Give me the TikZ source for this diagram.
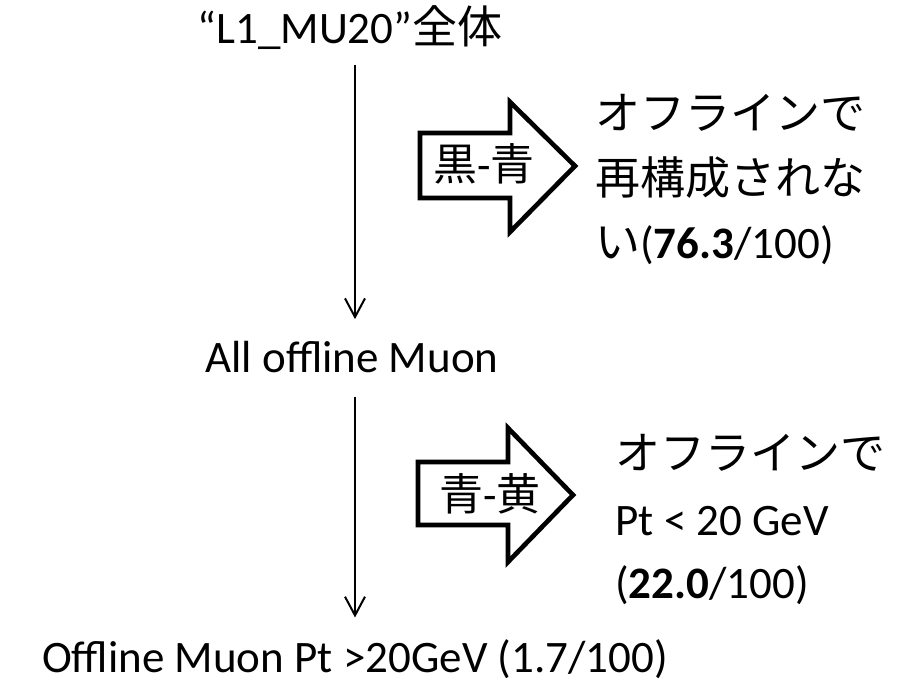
\documentclass[tikz,border=0pt]{standalone}
\usepackage{fontspec}
\setmainfont{Carlito}
\newfontfamily\jp{Noto Sans CJK JP}
\usetikzlibrary{arrows.meta}
\begin{document}
\begin{tikzpicture}[x=0.75pt,y=-0.75pt,
  txt/.style={inner sep=0pt, font=\fontsize{33.75}{40}\selectfont},
  albl/.style={inner sep=0pt, font=\fontsize{33}{38}\selectfont},
  conn/.style={line width=1.5pt, -{Straight Barb[length=14pt,width=15pt,line width=1.5pt]}},
  blk/.style={line width=3.5pt, draw=black, fill=white, line join=miter}]
\useasboundingbox[fill=white] (0,0) rectangle (908,683);
\coordinate (ax) at (355,0);
% main chain
\node[txt, anchor=base] (top) at (350,43) {“L1\_MU20”{\jp 全体}};
\node[txt, anchor=base] (mid) at (352,372) {All offline Muon};
\node[txt, anchor=base] (bot) at (355,672) {Offline Muon Pt >20GeV (1.7/100)};
\draw[conn, shorten <=12pt, shorten >=16pt] (top.south -| ax) -- (mid.north -| ax);
\draw[conn, shorten <=18pt, shorten >=16pt] (mid.south -| ax) -- (bot.north -| ax);
% block arrow 1
\draw[blk] (420,133) -- (510,133) -- (510,102) -- (575,166) -- (510,232) -- (510,198) -- (420,198) -- cycle;
\node[albl] (b1) at (484,164) {{\jp 黒}-{\jp 青}};
% block arrow 2
\draw[blk] (418,462) -- (508,462) -- (508,428) -- (573,495) -- (508,562) -- (508,525) -- (418,525) -- cycle;
\node[albl] (b2) at (490,494) {{\jp 青}-{\jp 黄}};
% right texts
\node[txt, anchor=base west] (r1a) at (595,129) {\jp オフラインで};
\node[txt, anchor=base west] (r1b) at (595,194) {\jp 再構成されな};
\node[txt, anchor=base west] (r1c) at (595,258) {{\jp い}(\textbf{76.3}/100)};
\node[txt, anchor=base west] (r2a) at (615,469) {\jp オフラインで};
\node[txt, anchor=base west] (r2b) at (615,535) {Pt < 20 GeV};
\node[txt, anchor=base west] (r2c) at (615,598) {(\textbf{22.0}/100)};
\end{tikzpicture}
\end{document}
